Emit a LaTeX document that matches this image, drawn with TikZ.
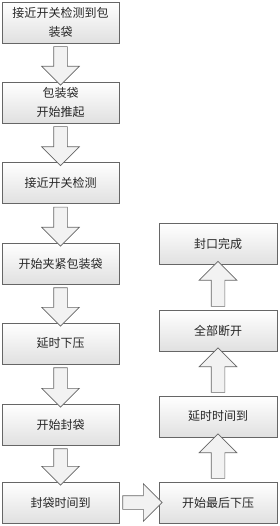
\documentclass[tikz,border=0pt]{standalone}
\usepackage{fontspec}
\setmainfont{Noto Sans CJK SC}
\usetikzlibrary{shapes.arrows,calc}

\tikzset{
  stepbox/.style={rectangle, draw=black!60, line width=0.6pt,
    top color=white, bottom color=black!12,
    minimum width=117pt, minimum height=41pt, inner sep=2pt,
    align=center, font=\fontsize{12}{19}\selectfont, text=black!85},
  bigarrow/.style={to path={let \p1=(\tikztostart), \p2=(\tikztotarget),
    \n1={veclen(\x2-\x1,\y2-\y1)} in
    (\tikztostart) -- (\tikztotarget)
    node[midway, sloped, allow upside down, single arrow, draw=black!60,
      line width=0.6pt, fill=black!5, minimum height=\n1, inner xsep=0pt,
      inner ysep=6.5pt, single arrow head extend=12pt,
      single arrow head indent=0pt, single arrow tip angle=90] {}}}
}

\begin{document}
\begin{tikzpicture}[x=1pt, y=-1pt]
  \useasboundingbox (0,0) rectangle (280,526);

  % left column
  \node[stepbox] (b1) at (60.5,22.5) {接近开关检测到包\\装袋};
  \node[stepbox] (b2) at (60.5,102.5) {包装袋\\开始推起};
  \node[stepbox] (b3) at (60.5,183) {接近开关检测};
  \node[stepbox] (b4) at (60.5,263.5) {开始夹紧包装袋};
  \node[stepbox] (b5) at (60.5,343.5) {延时下压};
  \node[stepbox] (b6) at (60.5,424.5) {开始封袋};
  \node[stepbox] (b7) at (60.5,502.5) {封袋时间到};

  % right column
  \node[stepbox, minimum width=118pt] (r1) at (218,502.5) {开始最后下压};
  \node[stepbox, minimum width=118pt] (r2) at (218,416.5) {延时时间到};
  \node[stepbox, minimum width=118pt] (r3) at (218,330.5) {全部断开};
  \node[stepbox, minimum width=118pt] (r4) at (218,244) {封口完成};

  % arrows
  \path (b1.south) to[bigarrow] (b2.north);
  \path (b2.south) to[bigarrow] (b3.north);
  \path (b3.south) to[bigarrow] (b4.north);
  \path (b4.south) to[bigarrow] (b5.north);
  \path (b5.south) to[bigarrow] (b6.north);
  \path (b6.south) to[bigarrow] (b7.north);
  \path (b7.east) to[bigarrow] (r1.west);
  \path (r1.north) to[bigarrow] (r2.south);
  \path (r2.north) to[bigarrow] (r3.south);
  \path (r3.north) to[bigarrow] (r4.south);
\end{tikzpicture}
\end{document}
